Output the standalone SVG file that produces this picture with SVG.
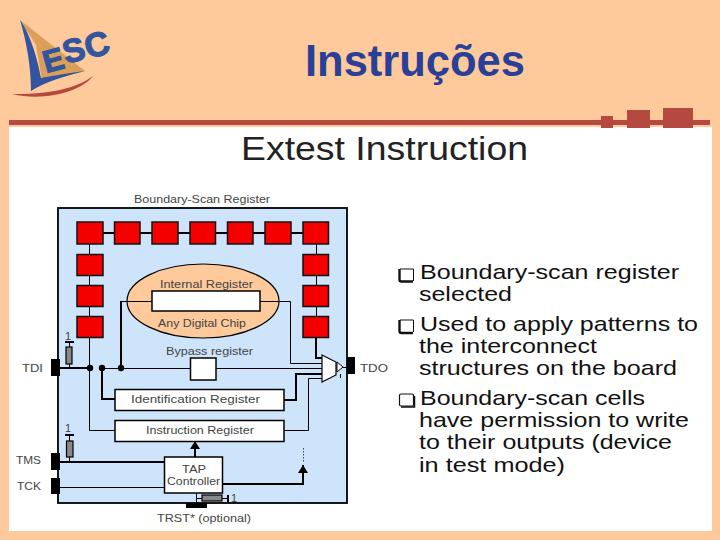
<svg xmlns="http://www.w3.org/2000/svg" width="720" height="540" viewBox="0 0 720 540">
<defs>
<style>
text{font-family:"Liberation Sans",Arial,sans-serif}
.cell{fill:#f40000;stroke:#111;stroke-width:1.5}
.reg{fill:#fff;stroke:#000;stroke-width:1.5}
.w{fill:none;stroke:#000;stroke-width:1}
.wb{fill:none;stroke:#000;stroke-width:2}
.lbl{font-size:11px;fill:#444}
.reglbl{font-size:11px;fill:#444}
.pin{fill:#000}
.res{fill:#888;stroke:#000;stroke-width:1.2}
.b{font-size:21px;fill:#111}
.accent{fill:#b5483f}
.esc{font-weight:700;fill:#33559f;stroke:#33559f;stroke-width:1.2}
</style>
<marker id="up" markerWidth="10" markerHeight="10" refX="8" refY="5" orient="auto" markerUnits="userSpaceOnUse" viewBox="0 0 10 10"><path d="M0 0L8 5L0 10Z" fill="#000"/></marker>
</defs>
<rect width="720" height="540" fill="#fec99b"/>
<rect x="9" y="127" width="703" height="404" fill="#fff"/>
<g id="header-bar">
<rect class="accent" x="9" y="120" width="701" height="5"/>
<rect class="accent" x="601" y="116" width="12" height="12"/>
<rect class="accent" x="627" y="110" width="23" height="18"/>
<rect class="accent" x="663" y="108" width="30" height="20"/>
</g>
<g id="logo">
<path d="M20 20L85 71L42 80L36 45Z" fill="#dc9f58"/>
<path d="M20 20C28 30 37 55 41 78C55 75 70 73 85 71C65 76 45 82 31 91C31 65 26 40 20 20Z" fill="#33559f"/>
<path d="M12 94C40 95 75 90 93 76C82 91 45 102 12 94Z" fill="#b5483f"/>
<text class="esc" transform="translate(46 73) rotate(-15)" font-size="31">E</text>
<text class="esc" transform="translate(66 64) rotate(-15)" font-size="33">S</text>
<text class="esc" transform="translate(88 59) rotate(-15)" font-size="34">C</text>
</g>
<text id="title" x="305" y="76" font-size="43.500" font-weight="700" fill="#2a3f97" textLength="220" lengthAdjust="spacingAndGlyphs">Instruções</text>
<text id="subtitle" x="241" y="160" font-size="34" fill="#222" textLength="287" lengthAdjust="spacingAndGlyphs">Extest Instruction</text>
<g id="chip">
<rect x="58" y="208" width="289" height="295" fill="#cde4fb" stroke="#000" stroke-width="1.8"/>
</g>
<text class="lbl" x="134" y="203" textLength="136" lengthAdjust="spacingAndGlyphs">Boundary-Scan Register</text>
<g id="digital-chip">
<ellipse cx="203" cy="301" rx="76" ry="37" fill="#fec99b" stroke="#000" stroke-width="1.2"/>
<rect class="reg" x="152" y="291" width="108" height="20"/>
<text class="reglbl" x="160" y="288" textLength="93" lengthAdjust="spacingAndGlyphs">Internal Register</text>
<text class="reglbl" x="158" y="327" textLength="88" lengthAdjust="spacingAndGlyphs">Any Digital Chip</text>
</g>
<g id="connectors">
<path class="wb" d="M90 233H316M60 368H90"/>
<path class="w" d="M89.500 233V430.500H115M316.500 233V338M102 368.500H190"/>
<path class="wb" d="M316 338V358H322M102 368V399H115M121 368V301"/>
<path class="w" d="M121 301.500H152M260 301.500H290.500V363.500H322M216 368.500H322M284 430.500H308.500V378.500H322M164 487.500H60"/>
<path class="wb" d="M284 400H296V374H322M164 462H60"/>
<path class="w" d="M69.500 342V368M69.500 435V462"/>
<path class="wb" d="M65 342H74M65 435H74"/>
<path class="wb" d="M195 457V441" marker-end="url(#up)"/>
<path class="wb" d="M222 484H303V465" marker-end="url(#up)"/>
<path class="w" stroke-dasharray="1.5 1.5" d="M303.500 448V462" style="stroke:#444"/>
<path class="w" d="M196.500 493V503M196 498.500H228"/>
<path class="wb" d="M228 495V502"/>
<circle cx="90" cy="368" r="3.200"/><circle cx="102" cy="368" r="3.200"/><circle cx="121" cy="368" r="3.200"/>
</g>
<g id="boundary-cells">
<rect class="cell" x="77" y="222" width="26" height="22"/>
<rect class="cell" x="114.500" y="222" width="25.500" height="22"/>
<rect class="cell" x="152" y="222" width="26" height="22"/>
<rect class="cell" x="190" y="222" width="25.500" height="22"/>
<rect class="cell" x="227.500" y="222" width="25.500" height="22"/>
<rect class="cell" x="265" y="222" width="26" height="22"/>
<rect class="cell" x="303" y="222" width="25.500" height="22"/>
<rect class="cell" x="77" y="254.500" width="26" height="21"/>
<rect class="cell" x="77" y="285.500" width="26" height="21"/>
<rect class="cell" x="77" y="316.500" width="26" height="21"/>
<rect class="cell" x="303" y="254.500" width="25.500" height="21"/>
<rect class="cell" x="303" y="285.500" width="25.500" height="21"/>
<rect class="cell" x="303" y="316.500" width="25.500" height="21"/>
</g>
<g id="bypass">
<rect class="reg" x="190.500" y="358" width="25.500" height="22"/>
<text class="reglbl" x="166" y="355" textLength="87" lengthAdjust="spacingAndGlyphs">Bypass register</text>
</g>
<g id="id-reg"><rect class="reg" x="115" y="389.500" width="169" height="21"/><text class="reglbl" x="131" y="403" textLength="129" lengthAdjust="spacingAndGlyphs">Identification Register</text></g>
<g id="instr-reg"><rect class="reg" x="115" y="420.500" width="169" height="21"/><text class="reglbl" x="146" y="434" textLength="108" lengthAdjust="spacingAndGlyphs">Instruction Register</text></g>
<g id="tap"><rect class="reg" x="164.500" y="457" width="58" height="36"/><text class="reglbl" x="182" y="473" textLength="24" lengthAdjust="spacingAndGlyphs">TAP</text><text class="reglbl" x="167" y="485" textLength="53" lengthAdjust="spacingAndGlyphs">Controller</text></g>
<g id="mux">
<path d="M322 355L336 362V375L322 382Z" fill="#fff" stroke="#000" stroke-width="1.200"/>
<path d="M337 362L343 367L337 372Z" fill="#fff" stroke="#000" stroke-width="1"/>
<path class="w" d="M343 367.500H347M340.500 374V378"/>
</g>
<g id="pins">
<rect class="pin" x="51" y="359" width="9" height="17"/>
<rect class="pin" x="51" y="453" width="9" height="17"/>
<rect class="pin" x="51" y="478" width="9" height="16"/>
<rect class="pin" x="347" y="357" width="8" height="17"/>
<rect class="pin" x="186" y="503" width="21" height="5"/>
<text class="lbl" x="22" y="372" textLength="21" lengthAdjust="spacingAndGlyphs">TDI</text>
<text class="lbl" x="360" y="372" textLength="28" lengthAdjust="spacingAndGlyphs">TDO</text>
<text class="lbl" x="16" y="464" textLength="25" lengthAdjust="spacingAndGlyphs">TMS</text>
<text class="lbl" x="17" y="490" textLength="24" lengthAdjust="spacingAndGlyphs">TCK</text>
<text class="lbl" x="157" y="522" textLength="94" lengthAdjust="spacingAndGlyphs">TRST* (optional)</text>
</g>
<g id="resistors">
<rect class="res" x="66" y="347" width="6" height="17"/>
<rect class="res" x="66.500" y="441" width="6.500" height="16"/>
<rect class="res" x="202" y="495" width="20" height="6"/>
<text class="lbl" x="65" y="340">1</text>
<text class="lbl" x="65" y="432">1</text>
<text class="lbl" x="231" y="502">1</text>
</g>
<g id="bullets" fill="none" stroke="#111">
<path d="M399.500 269V279.500Q399.500 281.500 401.500 281.500H413" stroke-width="2.400"/><path d="M413.500 269H400M413.500 269V281" stroke-width="1"/>
<path d="M399.500 320V331Q399.500 333 401.500 333H413" stroke-width="2.400"/><path d="M413.500 320H400M413.500 320V332" stroke-width="1"/>
<rect x="399.500" y="394" width="14" height="12" rx="1.500" stroke-width="1.200"/><path d="M401 407H414.500V396" stroke-width="1.500"/>
</g>
<g id="bullet-text">
<text class="b" x="420" y="279" textLength="259" lengthAdjust="spacingAndGlyphs">Boundary-scan register</text>
<text class="b" x="419" y="301" textLength="93" lengthAdjust="spacingAndGlyphs">selected</text>
<text class="b" x="420" y="331" textLength="278" lengthAdjust="spacingAndGlyphs">Used to apply patterns to</text>
<text class="b" x="419" y="353" textLength="178" lengthAdjust="spacingAndGlyphs">the interconnect</text>
<text class="b" x="419" y="375" textLength="258" lengthAdjust="spacingAndGlyphs">structures on the board</text>
<text class="b" x="420" y="405" textLength="225" lengthAdjust="spacingAndGlyphs">Boundary-scan cells</text>
<text class="b" x="419" y="427" textLength="270" lengthAdjust="spacingAndGlyphs">have permission to write</text>
<text class="b" x="419" y="449" textLength="253" lengthAdjust="spacingAndGlyphs">to their outputs (device</text>
<text class="b" x="419" y="472" textLength="146" lengthAdjust="spacingAndGlyphs">in test mode)</text>
</g>
</svg>
